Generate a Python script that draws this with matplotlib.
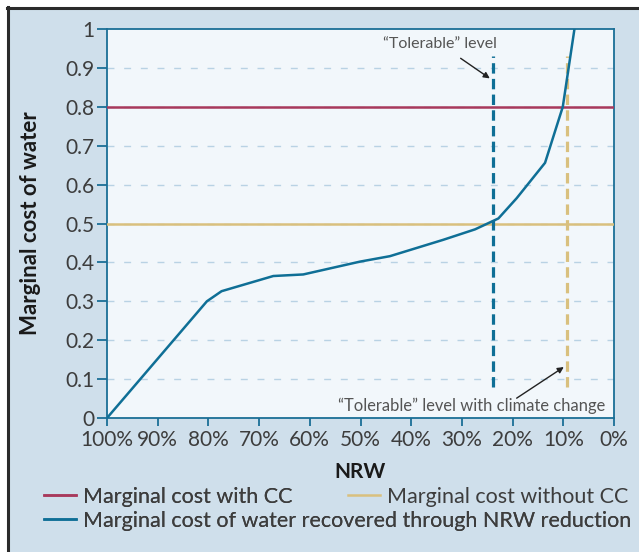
import matplotlib
matplotlib.use("Agg")
import matplotlib.pyplot as plt
from matplotlib.lines import Line2D
from matplotlib.patches import Rectangle

plt.rcParams['font.family'] = ['Lato', 'DejaVu Sans']
plt.rcParams['lines.scale_dashes'] = False

# ---- data ----
nrw = [100, 80.3, 77.4, 67.2, 61.3, 50.1, 44.2, 33.7, 27.4, 22.8, 19.2, 13.6, 10.1, 7.8]
cost = [0, 0.30, 0.326, 0.365, 0.369, 0.402, 0.416, 0.458, 0.485, 0.513, 0.565, 0.656, 0.80, 1.0]
cost_with_cc = 0.8
cost_without_cc = 0.5
tolerable = 23.8
tolerable_cc = 9.3
x_ticks = [100, 90, 80, 70, 60, 50, 40, 30, 20, 10, 0]
x_labels = ["100%", "90%", "80%", "70%", "60%", "50%", "40%", "30%", "20%", "10%", "0%"]
y_ticks = [0, 0.1, 0.2, 0.3, 0.4, 0.5, 0.6, 0.7, 0.8, 0.9, 1]
y_labels = ["0", "0.1", "0.2", "0.3", "0.4", "0.5", "0.6", "0.7", "0.8", "0.9", "1"]
legend_labels = ["Marginal cost with CC", "Marginal cost without CC",
                 "Marginal cost of water recovered through NRW reduction"]

# ---- colours ----
BG = "#cfdfeb"
AX_BG = "#f2f7fb"
SPINE = "#1b6f96"
RED = "#a8395c"
GOLD = "#d9c07e"
BLUE = "#0f6f96"
GRID = "#b9d2e4"
TXT = "#3d3d3d"

W, H = 639, 552
fig = plt.figure(figsize=(W / 100, H / 100), dpi=100, facecolor="white")
fig.add_artist(Rectangle((8 / W, 0), 1 - 8 / W, 1 - 8 / H, transform=fig.transFigure,
                         facecolor=BG, edgecolor="none", zorder=0))
fig.add_artist(Line2D([7 / W, 1], [1 - 8 / H, 1 - 8 / H], transform=fig.transFigure,
                      color="#2b2b2b", lw=2.2, zorder=1))
fig.add_artist(Line2D([8 / W, 8 / W], [0, 1 - 7 / H], transform=fig.transFigure,
                      color="#2b2b2b", lw=2.2, zorder=1))

ax = fig.add_axes([107 / W, 1 - 418 / H, (614 - 107) / W, (418 - 29) / H])
ax.set_facecolor(AX_BG)
ax.set_xlim(100, 0)
ax.set_ylim(0, 1)

for yv in y_ticks[1:-1]:
    ax.axhline(yv, color=GRID, lw=1.0, dashes=(5, 7), zorder=1)

ax.axhline(cost_with_cc, color=RED, lw=1.8, zorder=3)
ax.axhline(cost_without_cc, color=GOLD, lw=1.8, zorder=3)

ax.plot([tolerable, tolerable], [0.08, 0.93], color=BLUE, lw=2.3, dashes=(7.5, 3.8), zorder=4)
ax.plot([tolerable_cc, tolerable_cc], [0.08, 0.93], color=GOLD, lw=2.3, dashes=(7.5, 3.8), zorder=4)

ax.plot(nrw, cost, color=BLUE, lw=1.8, zorder=5, clip_on=True)

ax.annotate("\u201cTolerable\u201d level", xy=(24.5, 0.873), xytext=(34.4, 0.962),
            ha="center", va="center", fontsize=11.5, color="#555555",
            arrowprops=dict(arrowstyle="-|>", color="#222222", lw=1.0,
                            mutation_scale=9, shrinkA=6, shrinkB=0),
            zorder=6)
ax.annotate("", xy=(9.9, 0.131), xytext=(19.2, 0.051),
            arrowprops=dict(arrowstyle="-|>", color="#222222", lw=1.0,
                            mutation_scale=9, shrinkA=0, shrinkB=0), zorder=6)
ax.text(28.0, 0.032, "\u201cTolerable\u201d level with climate change", ha="center", va="center",
        fontsize=11.9, color="#555555", zorder=6)

for s in ax.spines.values():
    s.set_color(SPINE)
    s.set_linewidth(1.3)

ax.set_xticks(x_ticks)
ax.set_xticklabels(x_labels)
ax.set_yticks(y_ticks)
ax.set_yticklabels(y_labels)
ax.tick_params(axis="both", colors=SPINE, labelcolor=TXT, labelsize=15, width=1.3)
ax.tick_params(axis="x", length=6, pad=2.5)
ax.tick_params(axis="y", length=7, pad=2)

ax.set_xlabel("NRW", fontsize=15, fontweight="bold", color="#1a1a1a")
ax.xaxis.set_label_coords(0.5, -0.113)
ax.set_ylabel("Marginal cost of water", fontsize=16, fontweight="bold", color="#1a1a1a")
ax.yaxis.set_label_coords(-0.13, 0.5)

h_red = Line2D([], [], color=RED, lw=1.8)
h_gold = Line2D([], [], color=GOLD, lw=1.8)
h_blue = Line2D([], [], color=BLUE, lw=1.8)

leg1 = fig.legend([h_red, h_blue], [legend_labels[0], legend_labels[2]],
                  loc="upper left", bbox_to_anchor=(44 / W, 1 - 487 / H),
                  frameon=False, fontsize=15.5, handlelength=1.5, handletextpad=0.3,
                  labelspacing=0.17, borderpad=0, borderaxespad=0, labelcolor=TXT)
leg2 = fig.legend([h_gold], [legend_labels[1]],
                  loc="upper left", bbox_to_anchor=(348 / W, 1 - 487 / H),
                  frameon=False, fontsize=15.5, handlelength=1.5, handletextpad=0.3,
                  borderpad=0, borderaxespad=0, labelcolor=TXT)
fig.add_artist(leg1)

fig.savefig("out.png", dpi=100, facecolor="white")
